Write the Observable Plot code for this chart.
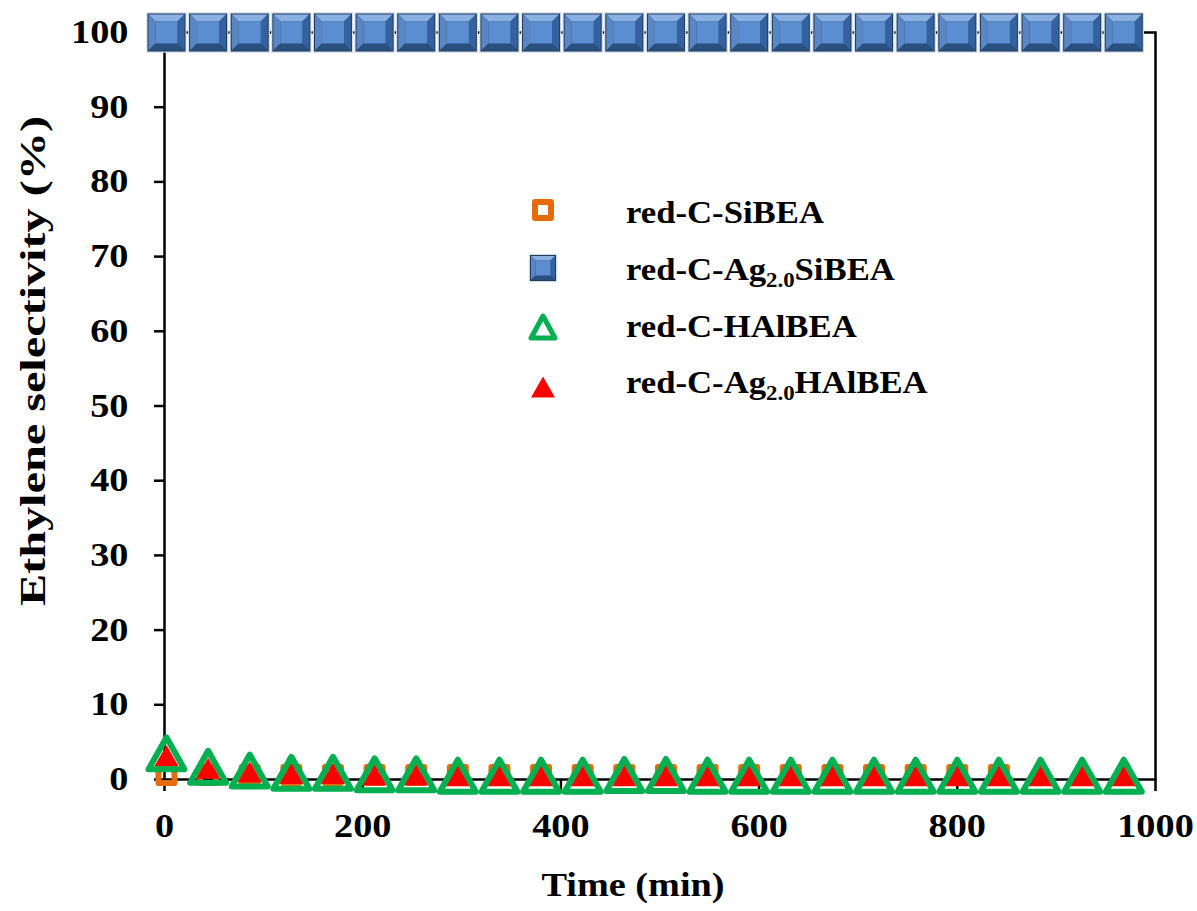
<!DOCTYPE html>
<html><head><meta charset="utf-8">
<script src="https://cdn.jsdelivr.net/npm/d3@7"></script>
<script src="https://cdn.jsdelivr.net/npm/@observablehq/plot@0.6"></script>
<style>body{margin:0;background:#fff}</style>
</head><body><div id="chart"></div>
<script>
// ---- data ----
const time = [2,44,86,128,170,212,254,296,338,380,422,464,506,548,590,632,674,716,758,800,842,884,926,968];
const siBEA = [0.6,0.6,0.6,0.6,0.6,0.6,0.6,0.6,0.6,0.6,0.6,0.6,0.6,0.6,0.6,0.6,0.6,0.6,0.6,0.6,0.6];
const agSiBEA = [100,100,100,100,100,100,100,100,100,100,100,100,100,100,100,100,100,100,100,100,100,100,100,100];
const hAlBEA = [3.5,1.7,1.2,0.9,0.9,0.7,0.7,0.5,0.5,0.5,0.5,0.6,0.6,0.5,0.5,0.5,0.5,0.5,0.5,0.5,0.5,0.5,0.5,0.5];
const agHAlBEA = [3.2,1.5,1.0,0.8,0.8,0.6,0.6,0.5,0.5,0.5,0.5,0.5,0.5,0.5,0.5,0.5,0.5,0.5,0.5,0.5,0.5,0.5,0.5,0.5];
const legendLabels = ["red-C-SiBEA", "red-C-Ag_2.0_SiBEA", "red-C-HAlBEA", "red-C-Ag_2.0_HAlBEA"];
const xTicks = [0,200,400,600,800,1000];
const yTicks = [0,10,20,30,40,50,60,70,80,90,100];
const xTitle = "Time (min)";
const yTitle = "Ethylene selectivity (%)";

const rows = arr => arr.map((v, i) => ({t: time[i], v}));
const dOrange = rows(siBEA), dBlue = rows(agSiBEA), dGreen = rows(hAlBEA), dRed = rows(agHAlBEA);

// ---- symbol shapes ----
const poly = pts => ({draw(ctx){ ctx.moveTo(pts[0][0], pts[0][1]); for (let k = 1; k < pts.length; k++) ctx.lineTo(pts[k][0], pts[k][1]); ctx.closePath(); }});
const sq = h => poly([[-h,-h],[h,-h],[h,h],[-h,h]]);
const tri = (hw, hh) => poly([[0,-hh],[hw,hh],[-hw,hh]]);
function bevelLayers(h) {
  const o = h, i = h * 0.58;
  return [
    {sym: sq(h + 1.2), fill: "#d3dae3"},
    {sym: sq(h), fill: "#1f3c63"},
    {sym: poly([[-o+1,-o+1],[o-1,-o+1],[i,-i],[-i,-i]]), fill: "#8bb1e2"},
    {sym: poly([[-o+1,-o+1],[-i,-i],[-i,i],[-o+1,o-1]]), fill: "#5a87c4"},
    {sym: poly([[o-1,-o+1],[o-1,o-1],[i,i],[i,-i]]), fill: "#34629e"},
    {sym: poly([[-o+1,o-1],[o-1,o-1],[i,i],[-i,i]]), fill: "#29507f"},
    {sym: sq(i), fill: "#5b8ed0"}
  ];
}
const font = "'Liberation Serif','Times New Roman',serif";

const blueMarks = bevelLayers(19).map(l => Plot.dot(dBlue, {x: "t", y: "v", symbol: l.sym, r: 5, fill: l.fill, stroke: "none"}));

const chart = Plot.plot({
  width: 1197, height: 911,
  marginLeft: 164, marginRight: 42, marginTop: 32, marginBottom: 132,
  x: {domain: [0, 1000]},
  y: {domain: [0, 100]},
  style: {background: "white", overflow: "visible"},
  marks: [
    Plot.frame({stroke: "#000", strokeWidth: 2.5}),
    Plot.axisX({ticks: xTicks, tickSize: 12, tickFormat: () => "", label: null, strokeWidth: 2.5}),
    Plot.axisY({ticks: yTicks, tickSize: 10, tickFormat: () => "", label: null, strokeWidth: 2.5}),
    Plot.text(xTicks, {x: d => d, frameAnchor: "bottom", dy: 47, lineAnchor: "middle", textAnchor: "middle", text: d => String(d), fontSize: 33, fontWeight: "bold", fontFamily: font, fill: "#000"}),
    Plot.text(yTicks, {y: d => d, frameAnchor: "left", dx: -36, textAnchor: "end", lineAnchor: "middle", text: d => String(d), fontSize: 33, fontWeight: "bold", fontFamily: font, fill: "#000"}),
    Plot.text([xTitle], {frameAnchor: "bottom", dy: 106, dx: -27, lineAnchor: "middle", textAnchor: "middle", text: d => d, fontSize: 33, fontWeight: "bold", fontFamily: font, fill: "#000"}),
    Plot.text([yTitle], {frameAnchor: "left", dx: -131, dy: -45, rotate: -90, textAnchor: "middle", lineAnchor: "middle", text: d => d, fontSize: 36, fontWeight: "bold", fontFamily: font, fill: "#000"}),
    Plot.dot(dOrange, {x: "t", y: "v", symbol: sq(8), r: 5, fill: "none", stroke: "#e46c0a", strokeWidth: 6, strokeLinejoin: "round"}),
    ...blueMarks,
    Plot.dot(dRed, {x: "t", y: "v", symbol: tri(12, 10.5), r: 5, fill: "#ff0000", stroke: "none"}),
    Plot.dot(dGreen, {x: "t", y: "v", symbol: tri(18, 16), r: 5, fill: "none", stroke: "#00b050", strokeWidth: 6, strokeLinejoin: "round"})
  ]
});
document.getElementById("chart").appendChild(chart);

// ---- stretch text along its direction to match the reference glyph shapes ----
const svg = d3.select(chart);
function stretchEl(el, s) {
  const tr = el.getAttribute("transform") || "";
  const x = +(el.getAttribute("x") || 0);
  el.setAttribute("transform", `${tr} translate(${x},0) scale(${s},1) translate(${-x},0)`);
}
svg.selectAll("text").each(function() {
  const txt = this.textContent;
  if (!txt) return;
  stretchEl(this, txt === yTitle ? 1.34 : 1.16);
});

// ---- legend ----
const lg = svg.append("g").attr("aria-label", "legend").attr("text-anchor", "start");
const rowsY = [210, 268, 327, 387];
const textY = [223, 280, 337, 393];
const legendSyms = [
  [{sym: sq(8), fill: "#fff", stroke: "#e46c0a", sw: 6}],
  bevelLayers(13).map(l => ({sym: l.sym, fill: l.fill, stroke: "none", sw: 0})),
  [{sym: tri(12, 11), fill: "#fff", stroke: "#00b050", sw: 5}],
  [{sym: tri(12, 10.5), fill: "#ff0000", stroke: "none", sw: 0}]
];
legendLabels.forEach((lab, k) => {
  legendSyms[k].forEach(s => {
    lg.append("path").attr("d", d3.symbol(s.sym)()).attr("transform", `translate(543,${rowsY[k]})`)
      .attr("fill", s.fill).attr("stroke", s.stroke).attr("stroke-width", s.sw).attr("stroke-linejoin", "round");
  });
  const t = lg.append("text").attr("x", 626).attr("y", textY[k]).attr("text-anchor", "start")
    .attr("font-family", font).attr("font-weight", "bold").attr("font-size", 32).attr("fill", "#000");
  lab.split("_").forEach((part, j) => {
    const ts = t.append("tspan").text(part);
    if (j % 2 === 1) ts.attr("font-size", 21).attr("dy", 7);
    else if (j > 0) ts.attr("dy", -7);
  });
  stretchEl(t.node(), 1.085);
});
</script>
</body></html>
